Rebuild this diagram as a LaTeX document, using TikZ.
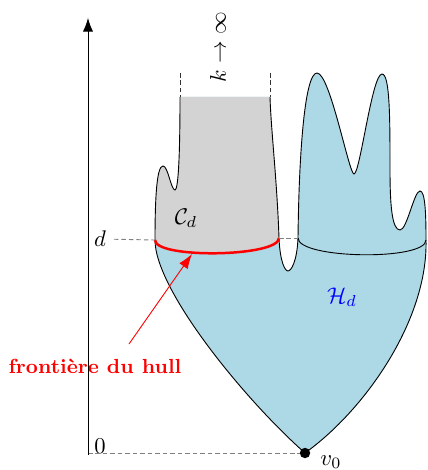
\documentclass[tikz,border=0pt]{standalone}
\usepackage{amsmath,amssymb}
\usetikzlibrary{arrows.meta}
\definecolor{hullblue}{RGB}{173,216,230}
\definecolor{cgray}{RGB}{211,211,211}
% outline of the region, open at the top of C_d
\newcommand{\hulloutline}{(180,97) .. controls (180,160) and (178,190) .. (175,190)
  .. controls (171,190) and (168,166) .. (163,166)
  .. controls (157,166) and (155,195) .. (155,240)
  .. controls (155,290) and (245,400) .. (305,453)
  .. controls (365,410) and (428,320) .. (426,240)
  .. controls (426,212) and (425,191) .. (420,191)
  .. controls (414,191) and (407,230) .. (400,230)
  .. controls (392,230) and (390,205) .. (390,170)
  .. controls (390,120) and (390,74) .. (382,74)
  .. controls (372,74) and (360,174) .. (354,174)
  .. controls (349,174) and (330,73) .. (317,73)
  .. controls (305,73) and (299,150) .. (298,238)
  .. controls (297,262) and (291,271) .. (288,271)
  .. controls (285,271) and (280,262) .. (279,238)
  .. controls (277,180) and (271,130) .. (270,97)}

\begin{document}
\begin{tikzpicture}[
    x=0.0155cm, y=-0.0155cm,
    guide/.style={gray, dash pattern=on 2pt off 1.3pt},
    hullfront/.style={red, line width=1.1pt},
    hullarrow/.style={red, -{Latex[length=6.5pt, width=4.5pt]}},
    axis/.style={-{Latex[length=6pt, width=4.5pt]}}
]
\useasboundingbox (0,0) rectangle (427,470);
\coordinate (cl) at (155,240);
\coordinate (cr) at (279,238);
\coordinate (bl) at (298,238);
\coordinate (br) at (426,240);
\coordinate (tl) at (180,97);
\coordinate (tr) at (270,97);
\coordinate (tlu) at (180,73);
\coordinate (tru) at (270,73);
\coordinate (v0) at (305,453);
\coordinate (axbot) at (88,455);
\coordinate (axtop) at (88,18);
\coordinate (ax0) at (88,453);
\coordinate (foot) at (129,344);
\coordinate (tip) at (192,254);

% regions
\fill[hullblue] \hulloutline -- cycle;
\begin{scope}
  \clip \hulloutline -- cycle;
  \fill[cgray] (140,60) -- (140,240) -- (cl) .. controls +(0,19) and +(0,19) .. (cr) -- (288,238) -- (288,60) -- cycle;
\end{scope}
\draw \hulloutline;
\draw[hullfront] (cl) .. controls +(0,19) and +(0,19) .. (cr);
\draw (bl) .. controls +(0,21) and +(0,21) .. (br);

% labels
\node (dlab) at (100,239) {$d$};
\node (zero) at (100,446) {$0$};
\node (v0lab) at (331,462) {$v_0$};
\node (Cd) at (186,218) {$\mathcal{C}_d$};
\node[text=blue] (Hd) at (342,297) {$\mathcal{H}_d$};
\node[rotate=90] (lim) at (218,47) {$k\to\infty$};
\node[font=\small\bfseries, text=red] (front) at (95,366) {frontière du hull};

% guides
\draw[guide] (dlab) -- (cl);
\draw[guide] (cr) -- (bl);
\draw[guide] (ax0) -- (v0);
\draw[black!80, dash pattern=on 2pt off 1.3pt] (tlu) -- (tl);
\draw[black!80, dash pattern=on 2pt off 1.3pt] (tru) -- (tr);
\draw[axis] (axbot) -- (axtop);
\fill (v0) circle (2.3pt);
\draw[hullarrow] (foot) -- (tip);
\end{tikzpicture}
\end{document}
